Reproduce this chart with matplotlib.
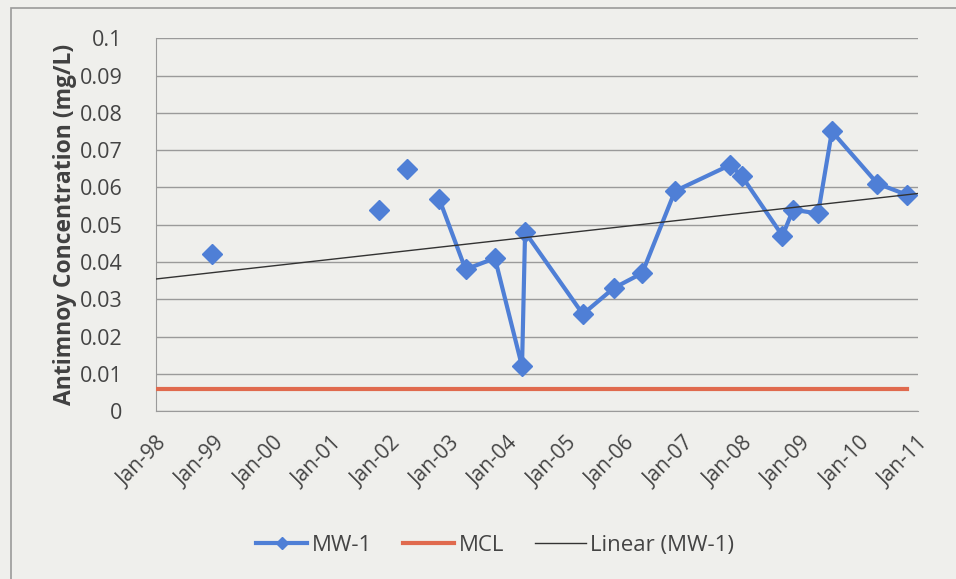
import numpy as np
import pandas as pd
import matplotlib
matplotlib.use('Agg')
import matplotlib.pyplot as plt
import matplotlib.dates as mdates
from matplotlib.patches import Rectangle

# ========================
# Data
# ========================
sample_dates = ["1998-12-15", "2000-06-01", "2001-10-20", "2002-01-15", "2002-04-15",
                "2002-08-01", "2002-11-01", "2003-04-15", "2003-10-15", "2004-04-01",
                "2004-04-20", "2005-04-15", "2005-10-25", "2006-04-20", "2006-11-10",
                "2007-10-20", "2008-01-01", "2008-09-10", "2008-11-15", "2009-04-20",
                "2009-07-15", "2010-04-25", "2010-10-25"]
# NaN = no sample (breaks the line like the original)
mw1 = [0.042, np.nan, 0.054, np.nan, 0.065,
       np.nan, 0.057, 0.038, 0.041, 0.012,
       0.048, 0.026, 0.033, 0.037, 0.059,
       0.066, 0.063, 0.047, 0.054, 0.053,
       0.075, 0.061, 0.058]
mcl_dates = ["1998-01-01", "2010-10-25"]
mcl = [0.006, 0.006]
tick_years = list(range(1998, 2012))
y_ticks = [0, 0.01, 0.02, 0.03, 0.04, 0.05, 0.06, 0.07, 0.08, 0.09, 0.1]
y_labels = ['0', '0.01', '0.02', '0.03', '0.04', '0.05', '0.06', '0.07', '0.08', '0.09', '0.1']

dates = pd.to_datetime(sample_dates)
mcl_x = pd.to_datetime(mcl_dates)

plt.rcParams['font.family'] = ['Open Sans', 'DejaVu Sans']

fig = plt.figure(figsize=(9.56, 5.79), dpi=100, facecolor='#efefec')
fig.patches.append(Rectangle((0.011, -0.05), 1.2, 1.036, transform=fig.transFigure,
                             fill=False, edgecolor='#9a9a9a', linewidth=1.2))
ax = fig.add_axes([0.163, 0.290, 0.797, 0.644])
ax.set_facecolor('#efefec')

blue = '#4f7fd6'
ax.plot(dates, mw1, color=blue, linewidth=3, marker='D', markersize=10,
        label='MW-1', zorder=4)
ax.plot(mcl_x, mcl, color='#e06a4e', linewidth=3, label='MCL', zorder=3)

# linear trend over the plotted range
valid = ~np.isnan(np.array(mw1))
xnum = mdates.date2num(dates[valid])
coef = np.polyfit(xnum, np.array(mw1)[valid], 1)
x0 = mdates.date2num(pd.Timestamp("1998-01-01"))
x1 = mdates.date2num(pd.Timestamp("2011-01-01"))
xs = np.array([x0, x1])
ax.plot(mdates.num2date(xs), np.polyval(coef, xs), color='#333333', linewidth=1,
        label='Linear (MW-1)', zorder=5)

ax.set_xlim(pd.Timestamp("1998-01-01"), pd.Timestamp("2011-01-01"))
ax.set_ylim(0, 0.1)
ax.set_yticks(y_ticks)
ax.set_yticklabels(y_labels)
ax.set_xticks([pd.Timestamp(f"{y}-01-01") for y in tick_years])
ax.xaxis.set_major_formatter(mdates.DateFormatter('%b-%y'))
plt.setp(ax.get_xticklabels(), rotation=45, ha='right', rotation_mode='anchor')
ax.tick_params(axis='both', colors='#444444', length=0)
ax.tick_params(axis='y', labelsize=15.5, pad=24)
ax.tick_params(axis='x', labelsize=15, pad=16)

ax.grid(axis='y', color='#9a9a9a', linewidth=1)
ax.set_axisbelow(True)
for s in ['top', 'right']:
    ax.spines[s].set_visible(False)
for s in ['left', 'bottom']:
    ax.spines[s].set_color('#9a9a9a')

ax.set_ylabel('Antimnoy Concentration (mg/L)', fontsize=16.5, fontweight='bold',
              color='#404040', labelpad=2)

fig.legend(loc='center', bbox_to_anchor=(0.518, 0.058), ncol=3, frameon=False,
           fontsize=16, labelcolor='#444444', handlelength=2.3, columnspacing=1.4,
           handletextpad=0.2, markerscale=0.6)

fig.savefig('out.png', dpi=100, facecolor=fig.get_facecolor())
